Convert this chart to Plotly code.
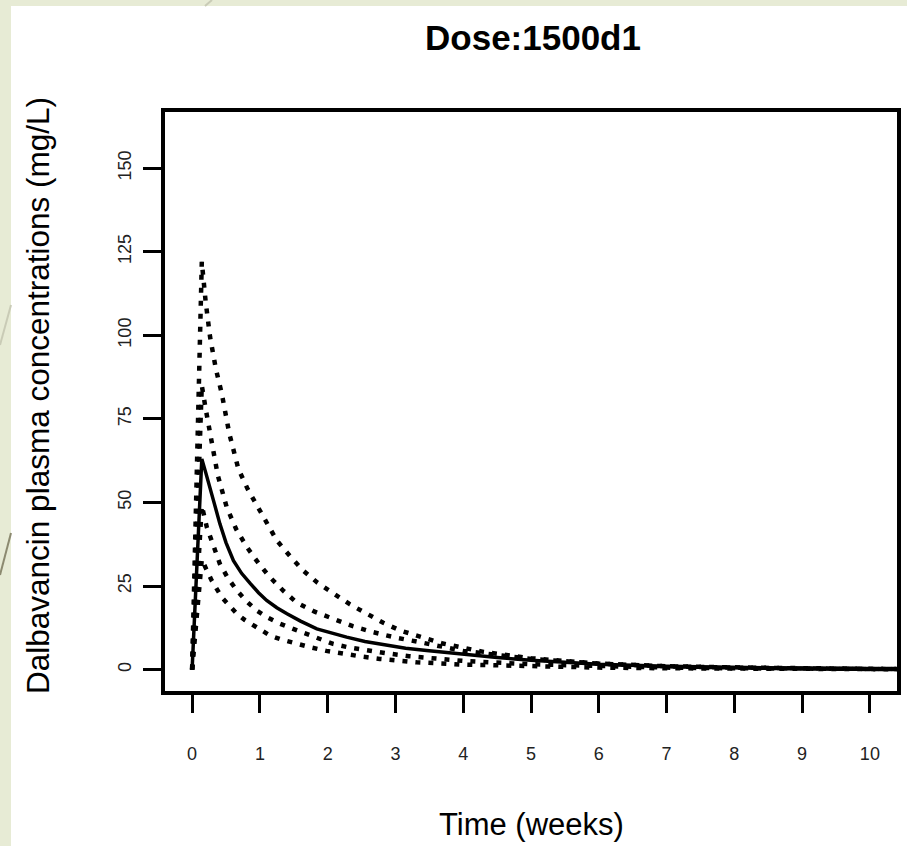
import plotly.graph_objects as go

# ---- data ----
weeks_median = [0, 0.143, 0.2, 0.265, 0.33, 0.41, 0.5, 0.61, 0.73, 0.86, 0.98, 1.10, 1.25, 1.40, 1.6,
                1.84, 2.05, 2.28, 2.55, 2.87, 3.15, 3.46, 3.9, 4.5, 5, 5.5, 6, 7, 8, 9, 10, 10.6]
conc_median = [0, 63, 59, 54.6, 49.5, 43.6, 38, 32.6, 28.8, 25.7, 23, 20.7, 18.5, 16.7, 14.5,
               12.2, 10.9, 9.7, 8.4, 7.2, 6.4, 5.7, 4.7, 3.6, 2.8, 2.2, 1.6, 1.0, 0.6, 0.4, 0.25, 0.2]

weeks_p_high = [0, 0.143, 0.2, 0.265, 0.35, 0.438, 0.55, 0.683, 0.82, 0.954, 1.1, 1.25, 1.45, 1.64,
                1.85, 2.08, 2.33, 2.58, 2.82, 3.07, 3.4, 3.7, 4.3, 5, 6, 7, 8, 9, 10, 10.6]
conc_p_high = [0, 122, 110, 99.5, 90, 82.5, 70.5, 60, 54, 49, 43.5, 38.6, 33.8, 29.6,
               26, 22.7, 19.5, 16.7, 14, 11.7, 9.6, 7.8, 5.3, 3.4, 1.8, 1.0, 0.6, 0.35, 0.2, 0.15]

weeks_p_midhigh = [0, 0.143, 0.2, 0.265, 0.38, 0.51, 0.65, 0.81, 0.98, 1.15, 1.35, 1.54, 1.8, 2.08,
                   2.37, 2.67, 3.0, 3.36, 4, 5, 6, 7, 8, 9, 10, 10.6]
conc_p_midhigh = [0, 85, 78, 70.5, 58, 48.6, 42, 36.6, 31.8, 27.6, 23.5, 20.1, 17.4, 15.2,
                  13, 11.2, 9.6, 8.2, 5.6, 3.2, 1.8, 1.0, 0.6, 0.35, 0.2, 0.15]

weeks_p_midlow = [0, 0.143, 0.217, 0.3, 0.41, 0.53, 0.66, 0.8, 0.95, 1.12, 1.30, 1.5, 1.69, 1.88,
                  2.08, 2.3, 2.58, 2.9, 3.2, 4, 5, 6, 7, 8, 9, 10, 10.6]
conc_p_midlow = [0, 49, 42.6, 37.5, 31.6, 27.3, 23.7, 20.5, 17.7, 15.5, 13.7, 12.1, 10.7, 9.1,
                 7.7, 6.7, 5.7, 4.8, 4.0, 2.6, 1.6, 1.0, 0.6, 0.4, 0.3, 0.2, 0.15]

weeks_p_low = [0, 0.143, 0.21, 0.29, 0.44, 0.55, 0.66, 0.78, 0.9, 1.02, 1.15, 1.3, 1.45, 1.6, 1.74,
               1.98, 2.23, 2.5, 2.77, 3.0, 3.31, 4, 5, 6, 7, 8, 9, 10, 10.6]
conc_p_low = [0, 33, 30, 26.6, 21.6, 19, 16.7, 14.8, 13.2, 11.6, 10.2, 9.1, 8.2, 7.4, 6.7,
              5.6, 4.7, 3.9, 3.2, 2.7, 2.2, 1.5, 0.9, 0.6, 0.4, 0.3, 0.2, 0.15, 0.1]

x_ticks = [0, 1, 2, 3, 4, 5, 6, 7, 8, 9, 10]
y_ticks = [0, 25, 50, 75, 100, 125, 150]

title_text = "Dose:1500d1"
x_title = "Time (weeks)"
y_title = "Dalbavancin plasma concentrations (mg/L)"

FONT = "Liberation Sans, Arial, sans-serif"

fig = go.Figure()

dotted = dict(color="black", width=4.5, dash="5px,8px")
for xs, ys, nm in [
    (weeks_p_high, conc_p_high, "upper"),
    (weeks_p_midhigh, conc_p_midhigh, "upper-mid"),
    (weeks_p_midlow, conc_p_midlow, "lower-mid"),
    (weeks_p_low, conc_p_low, "lower"),
]:
    fig.add_trace(go.Scatter(x=xs, y=ys, mode="lines", line=dotted, name=nm,
                             showlegend=False, hoverinfo="skip"))

fig.add_trace(go.Scatter(x=weeks_median, y=conc_median, mode="lines",
                         line=dict(color="black", width=3.5), name="median",
                         showlegend=False))

W, H = 907, 846
L, R, T, B = 165, 10, 112, 155
pw, ph = W - L - R, H - T - B


def px_x(px):
    return (px - L) / pw


def px_y(py):
    return (H - B - py) / ph


shapes = [
    # white slide area over greenish background
    dict(type="rect", xref="paper", yref="paper", layer="below",
         x0=px_x(11), x1=px_x(W + 20), y0=px_y(H + 20), y1=px_y(6),
         fillcolor="white", line=dict(width=0)),
    # decorative diagonals on slide background
    dict(type="line", xref="paper", yref="paper", layer="below",
         x0=px_x(0), y0=px_y(575), x1=px_x(11), y1=px_y(533),
         line=dict(color="#8c8a70", width=2)),
    dict(type="line", xref="paper", yref="paper", layer="below",
         x0=px_x(0), y0=px_y(345), x1=px_x(11), y1=px_y(305),
         line=dict(color="#c9cbb6", width=2)),
    dict(type="line", xref="paper", yref="paper", layer="below",
         x0=px_x(205), y0=px_y(6), x1=px_x(212), y1=px_y(0),
         line=dict(color="#c9cbb6", width=2)),
]

annotations = [
    dict(text=x_title, xref="paper", yref="paper", x=px_x(531), y=px_y(824),
         xanchor="center", yanchor="middle", showarrow=False,
         font=dict(family=FONT, size=31, color="black")),
    dict(text=y_title, xref="paper", yref="paper", x=px_x(38), y=px_y(396),
         xanchor="center", yanchor="middle", showarrow=False, textangle=-90,
         font=dict(family=FONT, size=31.5, color="black")),
]

fig.update_layout(
    width=W, height=H,
    margin=dict(l=L, r=R, t=T, b=B, autoexpand=False),
    paper_bgcolor="#e7ebd5",
    plot_bgcolor="white",
    title=dict(text=title_text, x=533 / W, y=1 - 38 / H, xref="container",
               yref="container", xanchor="center", yanchor="middle",
               font=dict(family=FONT, size=35, color="black", weight="bold")),
    shapes=shapes,
    annotations=annotations,
    xaxis=dict(range=[-0.4, 10.4], tickvals=x_ticks, ticks="outside",
               ticklen=18, tickwidth=3, tickcolor="black",
               showline=True, linecolor="black", linewidth=3.5, mirror=True,
               showgrid=False, zeroline=False, ticklabelstandoff=26,
               tickfont=dict(family=FONT, size=18, color="#222")),
    yaxis=dict(range=[-6.4, 166.8], tickvals=y_ticks, ticks="outside",
               ticklen=18, tickwidth=3, tickcolor="black",
               showline=True, linecolor="black", linewidth=3.5, mirror=True,
               showgrid=False, zeroline=False, tickangle=-90,
               ticklabelstandoff=5,
               tickfont=dict(family=FONT, size=18, color="#222")),
    hovermode=False,
)

fig.write_html("out.html")
